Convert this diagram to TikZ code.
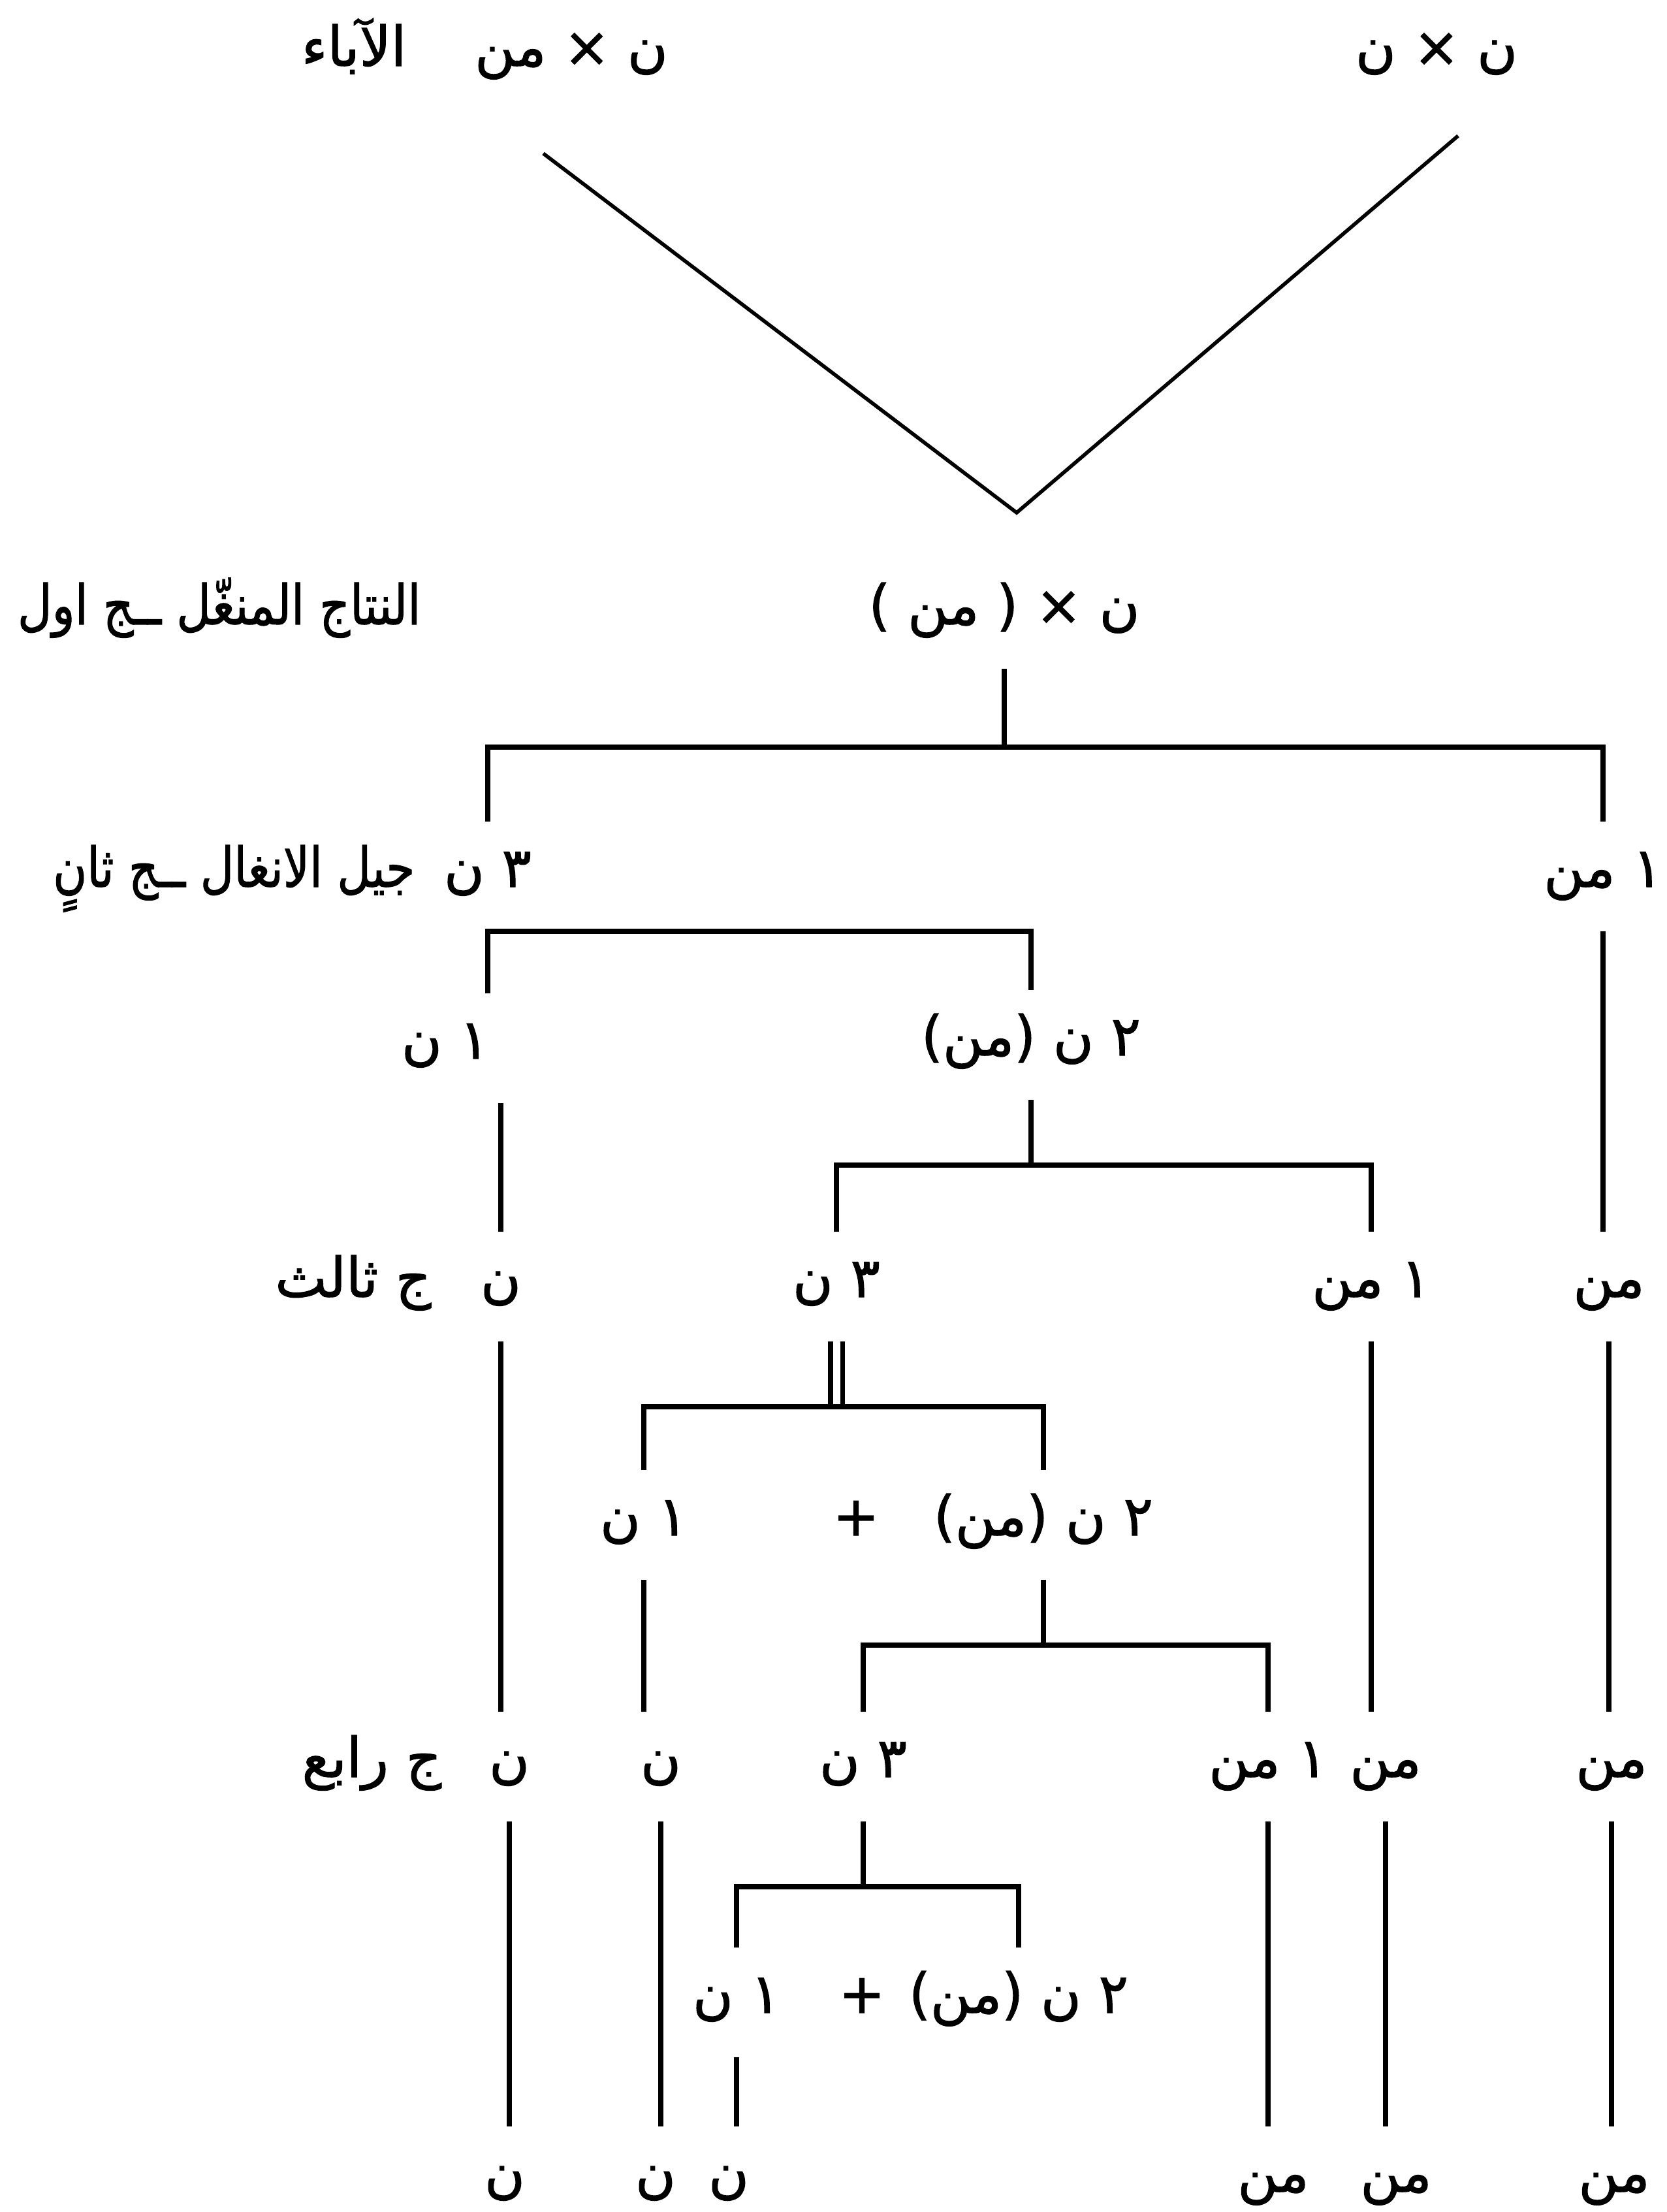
\documentclass[tikz,border=0pt]{standalone}
\usepackage{fontspec}
\usepackage{tikz}
\usetikzlibrary{calc}
\newfontfamily\arabicfont[Script=Arabic, FakeBold=1.4]{DejaVu Sans}
\TeXXeTstate=1

\begin{document}
\begin{tikzpicture}[
  gen/.style={font=\arabicfont\fontsize{24}{28}\selectfont, inner sep=0pt,
    outer ysep=0.45cm, text height=0.55cm, text depth=0.23cm},
  rowlbl/.style={gen, anchor=east},
  link/.style={line width=2.2pt},
  parentline/.style={line width=1.6pt},
]
  \useasboundingbox (0,0) rectangle (25.53,-33.87);

  % parents
  \node[rowlbl] (parlbl) at (6.23,-0.85) {\beginR الآباء\endR};
  \node[gen] (mother) at (8.75,-0.85) {\beginR ن × من\endR};
  \node[gen] (father) at (22.00,-0.85) {\beginR ن × ن\endR};
  \coordinate (apex) at (15.57,-7.85);

  % first generation
  \node[rowlbl] (fonelbl) at (6.45,-9.40) {\scalebox{0.86}[1]{\beginR النتاج المنغّل ــج اول\endR}};
  \node[gen] (fone) at (15.38,-9.40) {\beginR ن × ( من )\endR};

  % second generation
  \node[rowlbl] (twolbl) at (6.36,-13.42) {\scalebox{0.84}[1]{\beginR جيل الانغال ــج ثانٍ\endR}};
  \node[gen] (twoA) at (7.47,-13.42) {\beginR ٣ ن\endR};
  \node[gen] (twoB) at (24.55,-13.42) {\beginR ١ من\endR};
  \node[gen] (twoAA) at (6.82,-16.05) {\beginR ١ ن\endR};
  \node[gen] (twoAB) at (15.79,-16.00) {\beginR ٢ ن (من)\endR};

  % third generation
  \node[rowlbl] (thrlbl) at (6.61,-19.70) {\beginR ج ثالث\endR};
  \node[gen] (thrA) at (7.67,-19.70) {\beginR ن\endR};
  \node[gen] (thrB) at (12.81,-19.70) {\beginR ٣ ن\endR};
  \node[gen] (thrC) at (21.00,-19.70) {\beginR ١ من\endR};
  \node[gen] (thrD) at (24.64,-19.70) {\beginR من\endR};
  \node[gen] (thrBA) at (9.86,-23.35) {\beginR ١ ن\endR};
  \node[gen] (plusA) at (13.11,-23.35) {+};
  \node[gen] (thrBB) at (15.98,-23.35) {\beginR ٢ ن (من)\endR};

  % fourth generation
  \node[rowlbl] (forlbl) at (6.77,-27.05) {\beginR ج رابع\endR};
  \node[gen] (forA) at (7.80,-27.05) {\beginR ن\endR};
  \node[gen] (forB) at (10.12,-27.05) {\beginR ن\endR};
  \node[gen] (forC) at (13.22,-27.05) {\beginR ٣ ن\endR};
  \node[gen] (forD) at (19.42,-27.05) {\beginR ١ من\endR};
  \node[gen] (forE) at (21.22,-27.05) {\beginR من\endR};
  \node[gen] (forF) at (24.68,-27.05) {\beginR من\endR};
  \node[gen] (forCA) at (11.28,-30.66) {\beginR ١ ن\endR};
  \node[gen] (plusB) at (13.20,-30.66) {+};
  \node[gen] (forCB) at (15.60,-30.66) {\beginR ٢ ن (من)\endR};

  % fifth row
  \node[gen] (fivA) at (7.73,-33.40) {\beginR ن\endR};
  \node[gen] (fivB) at (10.04,-33.40) {\beginR ن\endR};
  \node[gen] (fivC) at (11.16,-33.40) {\beginR ن\endR};
  \node[gen] (fivD) at (19.50,-33.40) {\beginR من\endR};
  \node[gen] (fivE) at (21.38,-33.40) {\beginR من\endR};
  \node[gen] (fivF) at (24.72,-33.40) {\beginR من\endR};

  % crossing
  \draw[parentline] ($(mother.south)+(-0.43,-0.66)$) -- (apex)
    -- ($(father.south)+(0.33,-0.39)$);

  \draw[link] (fone.south) -- ++(0,-1.2) coordinate (k1);
  \draw[link] (twoA.north) |- (k1) -| (twoB.north);

  \draw[link] (twoAA.north -| twoA.south) -- (twoA.south) -| (twoAB.north);
  \draw[link] (twoAA.south -| thrA.north) -- (thrA.north);
  \draw[link] (twoB.south) -- (twoB.south |- thrD.north);

  \draw[link] (twoAB.south) -- ++(0,-1.0) coordinate (k3);
  \draw[link] (thrB.north) |- (k3) -| (thrC.north);

  \draw[link, double, double distance=1.1mm] (thrB.south) -- ++(0,-1.0) coordinate (k4);
  \draw[link] (thrBA.north) |- (k4) -| (thrBB.north);
  \draw[link] (thrA.south) -- (thrA.south |- forA.north);
  \draw[link] (thrC.south) -- (thrC.south |- forE.north);
  \draw[link] (thrD.south) -- (thrD.south |- forF.north);
  \draw[link] (thrBA.south) -- (thrBA.south |- forB.north);

  \draw[link] (thrBB.south) -- ++(0,-1.0) coordinate (k5);
  \draw[link] (forC.north) |- (k5) -| (forD.north);

  \draw[link] (forC.south) -- ++(0,-1.0) coordinate (k6);
  \draw[link] (forCA.north) |- (k6) -| (forCB.north);

  \draw[link] (forA.south) -- (forA.south |- fivA.north);
  \draw[link] (forB.south) -- (forB.south |- fivB.north);
  \draw[link] (forCA.south) -- (forCA.south |- fivC.north);
  \draw[link] (forD.south) -- (forD.south |- fivD.north);
  \draw[link] (forE.south) -- (forE.south |- fivE.north);
  \draw[link] (forF.south) -- (forF.south |- fivF.north);
\end{tikzpicture}
\end{document}
